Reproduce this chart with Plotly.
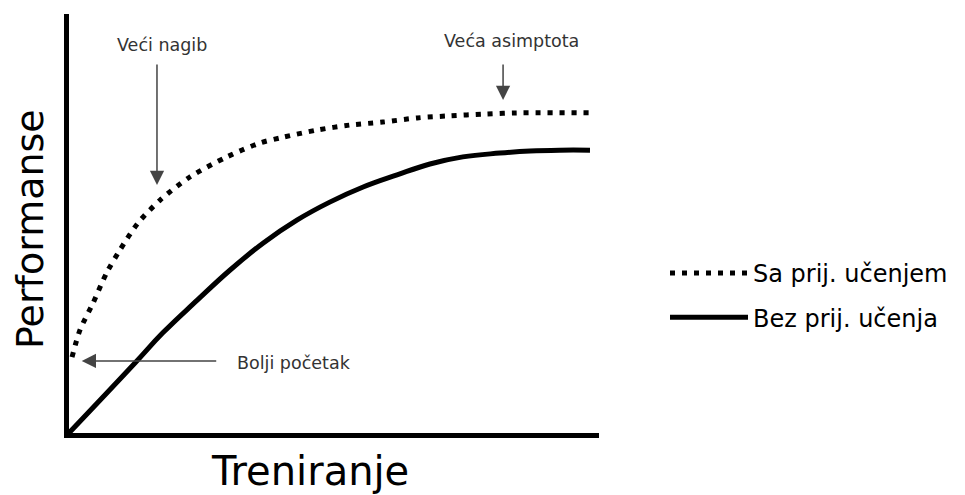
import plotly.graph_objects as go

# Data (arbitrary units, 0-100 scale)
x_with = [0.57, 2.08, 4.53, 7.17, 9.62, 13.0, 17.2, 22.8, 29.8, 36.0, 40.4, 46.8,
          53.0, 59.2, 65.7, 71.9, 78.1, 84.5, 98.3]
y_with = [18.1, 24.6, 31.0, 38.4, 43.7, 50.1, 55.6, 61.1, 65.9, 69.2, 70.6, 72.3,
          73.5, 74.2, 75.2, 75.7, 76.1, 76.4, 76.4]
x_without = [0.0, 12.45, 17.7, 24.2, 30.4, 36.6, 43.0, 49.2, 55.5, 61.9, 68.1, 74.3,
             81.3, 87.0, 92.6, 98.3]
y_without = [0.0, 16.7, 23.9, 31.7, 38.9, 45.3, 50.8, 55.1, 58.7, 61.6, 64.2, 65.9,
             66.8, 67.3, 67.5, 67.5]
names = ["Sa prij. učenjem", "Bez prij. učenja"]

# page body has an 8px margin, so the figure is 8px smaller and offset
W, H = 957, 487
X0, X1, YB, YT = 61, 591, 425, 6

fig = go.Figure()
fig.add_trace(go.Scatter(x=x_with, y=y_with, mode="lines", name=names[0],
                         legendgroup="a",
                         line=dict(color="black", width=5, dash="5px,7px", shape="spline",
                                   smoothing=0.8)))
fig.add_trace(go.Scatter(x=x_without, y=y_without, mode="lines", name=names[1],
                         legendgroup="b",
                         line=dict(color="black", width=5, shape="spline", smoothing=1.2)))

font = "DejaVu Sans"
gray = "#444444"
ann = []
# text labels
ann.append(dict(x=17.5, y=92.6, xref="x", yref="y", text="Veći nagib", showarrow=False,
                font=dict(family=font, size=17.5, color="#333")))
ann.append(dict(x=83.4, y=93.6, xref="x", yref="y", text="Veća asimptota", showarrow=False,
                font=dict(family=font, size=17.5, color="#333")))
ann.append(dict(x=31.3, y=16.7, xref="x", yref="y", text="Bolji početak", showarrow=False,
                xanchor="left", font=dict(family=font, size=17.5, color="#333")))
# arrows
arrow = dict(xref="x", yref="y", text="", showarrow=True, arrowhead=2, arrowsize=1.9,
             arrowwidth=1.5, arrowcolor=gray, axref="pixel", ayref="pixel")
ann.append(dict(arrow, x=16.6, y=59.2, ax=0, ay=-122))
ann.append(dict(arrow, x=81.9, y=79.5, ax=0, ay=-37))
ann.append(dict(arrow, x=2.4, y=17.2, ax=136, ay=0))
# axis titles
ann.append(dict(x=22 / W, y=1 - 221 / H, xref="paper", yref="paper", text="Performanse",
                xanchor="center", yanchor="middle",
                showarrow=False, textangle=-90, font=dict(family=font, size=38, color="black")))
ann.append(dict(x=302 / W, y=0, xref="paper", yref="paper", text="Treniranje",
                xanchor="center", yanchor="bottom", borderpad=0,
                showarrow=False, font=dict(family=font, size=40, color="black")))

fig.update_layout(
    width=W, height=H,
    margin=dict(l=0, r=0, t=0, b=0),
    paper_bgcolor="white", plot_bgcolor="white",
    xaxis=dict(domain=[X0 / W, X1 / W], range=[0, 100], showgrid=False, zeroline=False,
               showticklabels=False, ticks="", showline=True, linecolor="black", linewidth=5),
    yaxis=dict(domain=[(H - YB) / H, (H - YT) / H], range=[0, 100], showgrid=False, zeroline=False,
               showticklabels=False, ticks="", showline=True, linecolor="black", linewidth=5),
    showlegend=True,
    legend=dict(x=657 / W, y=1 - 243 / H, xanchor="left", yanchor="top",
                font=dict(family=font, size=24, color="black"),
                itemwidth=78, tracegroupgap=10, bgcolor="rgba(0,0,0,0)"),
    annotations=ann,
)

fig.write_html("out.html")
